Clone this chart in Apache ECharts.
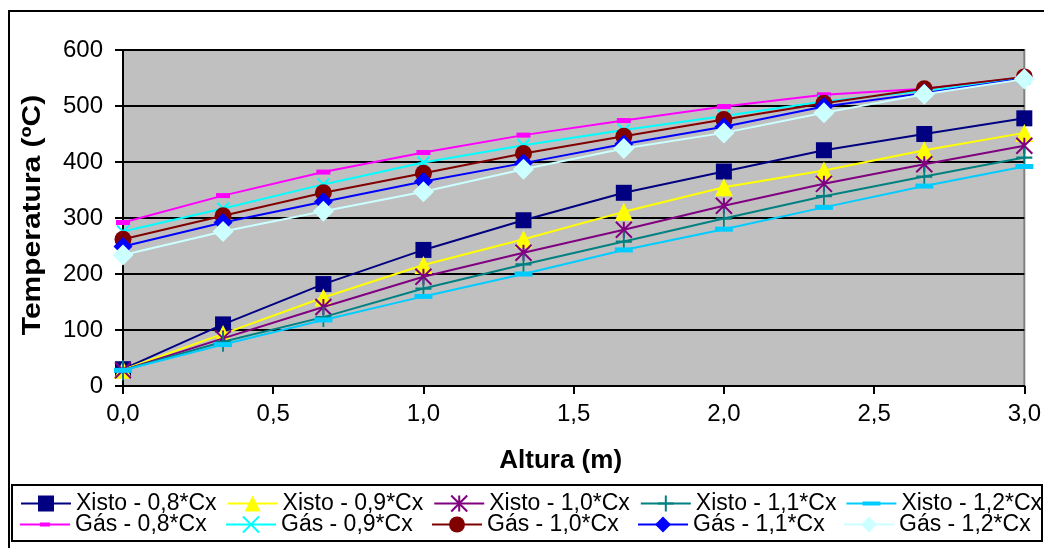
<!DOCTYPE html>
<html>
<head>
<meta charset="utf-8">
<script src="https://cdn.jsdelivr.net/npm/echarts@6/dist/echarts.min.js"></script>
<style>
html,body{margin:0;padding:0;background:#fff;}
#chart{width:1044px;height:548px;}
</style>
</head>
<body>
<div id="chart"></div>
<script>
// Altura (m) positions of the measured points
const alturas = [0, 0.333, 0.667, 1, 1.333, 1.667, 2, 2.333, 2.667, 3];
const xTicks = ['0,0', '0,5', '1,0', '1,5', '2,0', '2,5', '3,0'];

// Temperatura (ºC)
const xisto08 = [30, 110, 182, 243, 296, 345, 383, 421, 450, 478];
const xisto09 = [29, 93, 158, 216, 262, 311, 355, 385, 421, 452];
const xisto10 = [28, 85, 141, 195, 238, 279, 322, 361, 396, 429];
const xisto11 = [28, 79, 123, 174, 217, 258, 299, 339, 374, 408];
const xisto12 = [28, 74, 118, 160, 200, 243, 280, 319, 357, 392];
const gas08 = [292, 340, 382, 417, 448, 474, 499, 520, 531, 551];
const gas09 = [276, 317, 360, 399, 430, 457, 482, 508, 527, 550];
const gas10 = [262, 304, 345, 380, 415, 446, 476, 505, 531, 552];
const gas11 = [249, 292, 329, 365, 398, 432, 463, 499, 523, 549];
const gas12 = [234, 276, 312, 347, 387, 424, 452, 488, 521, 548];

const xistoNames = ['Xisto - 0,8*Cx','Xisto - 0,9*Cx','Xisto - 1,0*Cx','Xisto - 1,1*Cx','Xisto - 1,2*Cx'];
const gasNames = ['Gás - 0,8*Cx','Gás - 0,9*Cx','Gás - 1,0*Cx','Gás - 1,1*Cx','Gás - 1,2*Cx'];
const names = xistoNames.concat(gasNames);
const values = [xisto08, xisto09, xisto10, xisto11, xisto12, gas08, gas09, gas10, gas11, gas12];

// legend icons for the dash-marker series: line + dash, with tiny corner points to fix the box
const dashIcon = (w) => 'path://M0,0L0.01,0L0.01,0.01Z M0,20L0.01,20L0.01,19.99Z ' +
  'M0,9L50,9L50,11L0,11Z M' + (25 - w / 2) + ',8L' + (25 + w / 2) + ',8L' + (25 + w / 2) + ',12L' + (25 - w / 2) + ',12Z';

const styles = [
  {c:'#000080', symbol:'rect', size:16, filled:true},
  {c:'#FFFF00', symbol:'triangle', size:18, filled:true},
  {c:'#800080', symbol:'path://M0,0L16,16M16,0L0,16M8,0L8,16', size:16, filled:false},
  {c:'#008080', symbol:'path://M0,9L16,9M8,0L8,18', size:[16,20], filled:false},
  {c:'#00CCFF', symbol:'rect', size:[18,5], filled:true, icon: dashIcon(18)},
  {c:'#FF00FF', symbol:'rect', size:[14,5], filled:true, icon: dashIcon(10)},
  {c:'#00FFFF', symbol:'path://M0,0L12,12M12,0L0,12', size:12, filled:false},
  {c:'#800000', symbol:'circle', size:17, filled:true},
  {c:'#0000FF', symbol:'diamond', size:19, filled:true},
  {c:'#CCFFFF', symbol:'diamond', size:21, filled:true}
];

const FONT = 'Liberation Sans, Arial, sans-serif';

const series = names.map((n, i) => {
  const s = styles[i];
  return {
    name: n,
    type: 'line',
    data: alturas.map((x, j) => [x, values[i][j]]),
    symbol: s.symbol,
    symbolSize: s.size,
    showSymbol: true,
    lineStyle: {color: s.c, width: 2},
    itemStyle: s.filled ? {color: s.c, borderWidth: 0} : {color: 'transparent', borderColor: s.c, borderWidth: 2},
    z: 2 + i,
    animation: false
  };
});

const legendData = (list, offset) => list.map((n, k) => {
  const s = styles[offset + k];
  return s.icon ? {name: n, icon: s.icon, itemStyle: {color: s.c}} : {name: n};
});

const legendCommon = {
  left: 15, width: 1030, orient: 'horizontal',
  itemGap: 10, itemWidth: 50, itemHeight: 20,
  padding: 5,
  textStyle: {color: '#000', fontSize: 23, fontFamily: FONT, width: 140, lineHeight: 20}
};

const chart = echarts.init(document.getElementById('chart'), null, {renderer: 'canvas'});
chart.setOption({
  animation: false,
  backgroundColor: '#ffffff',
  grid: {left: 123, right: 17, top: 50, bottom: 162, show: true, backgroundColor: '#C0C0C0', borderColor: '#808080', borderWidth: 2},
  xAxis: {
    type: 'value', min: 0, max: 3, interval: 0.5,
    axisLine: {onZero: false, lineStyle: {color: '#000', width: 2}},
    axisTick: {show: true, inside: false, length: 8, lineStyle: {color: '#000', width: 2}},
    axisLabel: {color: '#000', fontSize: 24, fontFamily: FONT, margin: 16,
      formatter: v => xTicks[Math.round(v / 0.5)]},
    splitLine: {show: false},
    name: 'Altura (m)', nameLocation: 'middle', nameGap: 62,
    nameTextStyle: {color: '#000', fontSize: 26, fontWeight: 'bold', fontFamily: FONT, padding: [0, 26, 0, 0]}
  },
  yAxis: {
    type: 'value', min: 0, max: 600, interval: 100,
    axisLine: {show: true, lineStyle: {color: '#000', width: 2}},
    axisTick: {show: true, inside: false, length: 8, lineStyle: {color: '#000', width: 2}},
    axisLabel: {color: '#000', fontSize: 24, fontFamily: FONT, margin: 20},
    splitLine: {show: true, lineStyle: {color: '#000', width: 2}}
  },
  legend: [
    Object.assign({}, legendCommon, {data: legendData(xistoNames, 0), top: 487}),
    Object.assign({}, legendCommon, {data: legendData(gasNames, 5), top: 508})
  ],
  graphic: [
    {type: 'rect', shape: {x: 9, y: 11, width: 1060, height: 560}, style: {fill: 'none', stroke: '#000', lineWidth: 2}, z: 100, silent: true},
    {type: 'rect', shape: {x: 12, y: 485, width: 1030, height: 56}, style: {fill: 'none', stroke: '#000', lineWidth: 2}, z: 100, silent: true},
    {type: 'text', x: 33, y: 215, rotation: Math.PI / 2, scaleX: 1.2, scaleY: 1, z: 100, silent: true,
     style: {text: 'Temperatura (ºC)', font: 'bold 25px ' + FONT, fill: '#000', align: 'center', verticalAlign: 'middle'}}
  ],
  series: series
});
</script>
</body>
</html>
